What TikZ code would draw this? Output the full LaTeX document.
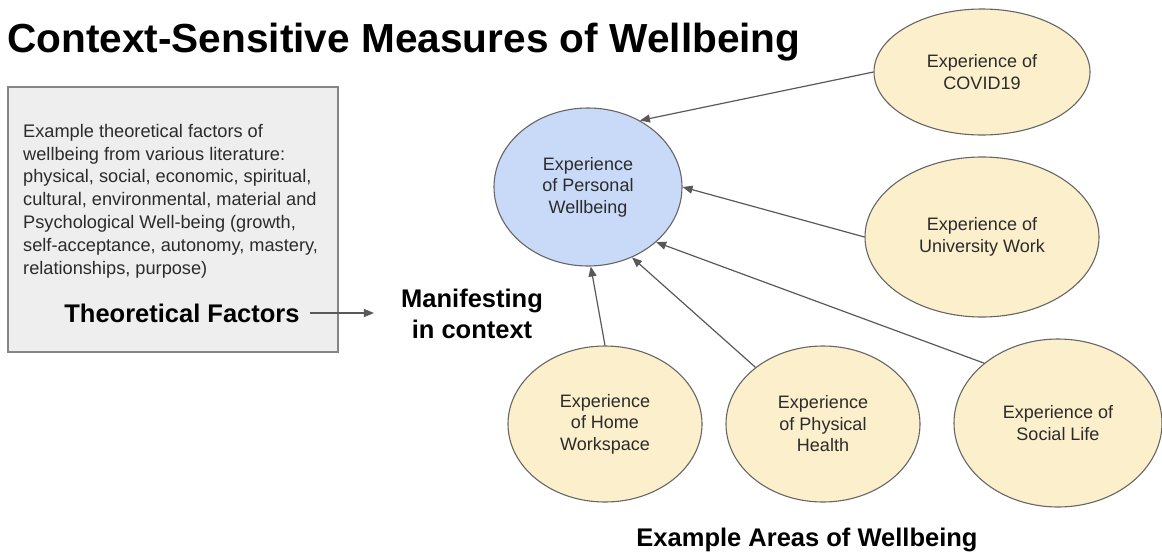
\documentclass[tikz,border=0pt]{standalone}
\usepackage{fontspec}
\setmainfont{Liberation Sans}
\usetikzlibrary{shapes.geometric,arrows.meta}
\definecolor{cream}{HTML}{FCEFCB}
\definecolor{lblue}{HTML}{C9DAF8}
\definecolor{boxgray}{HTML}{EEEEEE}
\definecolor{edgegray}{HTML}{666666}
\definecolor{arrgray}{HTML}{595959}
\definecolor{txtgray}{HTML}{2B2B2B}
\tikzset{
  area/.style={ellipse, draw=edgegray, line width=1.1pt, fill=cream, inner sep=0pt,
    align=center, text=txtgray, font=\fontsize{18}{21.5}\selectfont},
  core/.style={area, fill=lblue},
  boldlabel/.style={inner sep=0pt, align=center, font=\fontsize{25.5}{31}\selectfont\bfseries},
  arr/.style={draw=arrgray, line width=1.2pt, -{Triangle[length=10pt,width=8pt]}},
  factorbox/.style={draw=edgegray!80, line width=1.1pt, fill=boxgray}
}
\begin{document}
\begin{tikzpicture}[x=1pt,y=-1pt]
\useasboundingbox (0,0) rectangle (1162,555);
% title
\node[anchor=base west, inner sep=0pt, font=\fontsize{40.6}{48}\selectfont\bfseries] (title) at (7,52) {Context-Sensitive Measures of Wellbeing};
% factor box
\draw[factorbox] (8,87) rectangle (338,352);
\node[anchor=north west, inner sep=0pt, align=left, text=txtgray, font=\fontsize{18.2}{22.8}\selectfont] (factors) at (23,124)
 {Example theoretical factors of\\wellbeing from various literature:\\physical, social, economic, spiritual,\\cultural, environmental, material and\\Psychological Well-being (growth,\\self-acceptance, autonomy, mastery,\\relationships, purpose)};
\node[boldlabel] (tf) at (182,313) {Theoretical Factors};
\node[boldlabel] (man) at (472,313.5) {Manifesting\\in context};
\draw[arr, shorten <=10pt, shorten >=27pt] (tf.east) -- (tf.east -| man.west);
% ellipses
\node[core, minimum width=188pt, minimum height=158pt] (personal) at (588,187) {Experience\\of Personal\\Wellbeing};
\node[area, minimum width=216pt, minimum height=126pt] (covid) at (982,72) {Experience of\\COVID19};
\node[area, minimum width=234pt, minimum height=160pt] (univ) at (982,237) {Experience of\\University Work};
\node[area, minimum width=194pt, minimum height=156pt] (home) at (605,424) {Experience\\of Home\\Workspace};
\node[area, minimum width=194pt, minimum height=156pt] (phys) at (823,424) {Experience\\of Physical\\Health};
\node[area, minimum width=208pt, minimum height=168pt] (social) at (1058,423) {Experience of\\Social Life};
% connectors
\draw[arr] (covid.west) -- (personal.52);
\draw[arr] (univ.west) -- (personal.0);
\draw[arr] (social.141) -- (personal.-39);
\draw[arr] (phys.140) -- (personal.-58);
\draw[arr] (home.north) -- (personal.-88);
% bottom label
\node[boldlabel] (areas) at (807,540) {Example Areas of Wellbeing};
\end{tikzpicture}
\end{document}
